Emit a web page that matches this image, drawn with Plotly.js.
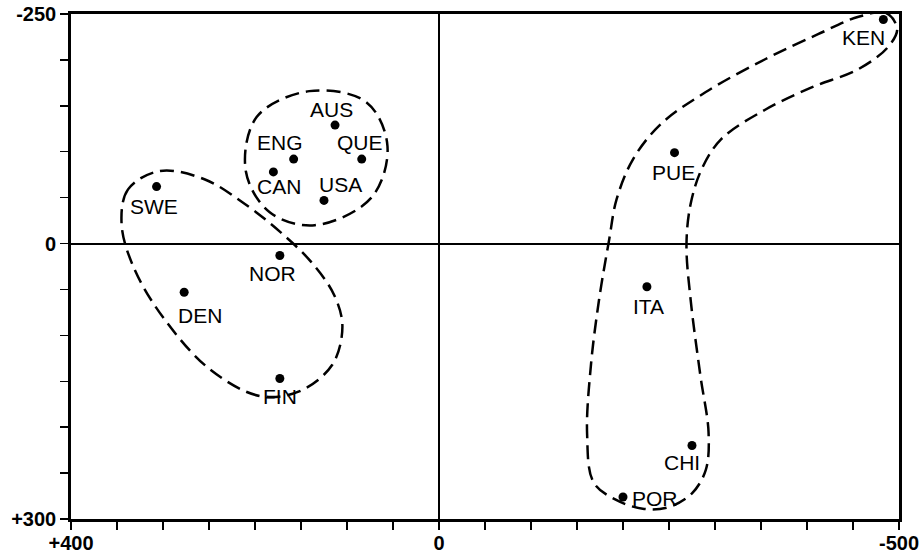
<!DOCTYPE html>
<html>
<head>
<meta charset="utf-8">
<script src="https://cdn.plot.ly/plotly-3.0.1.min.js"></script>
<style>
html,body{margin:0;padding:0;background:#fff}
#chart{width:921px;height:554px}
</style>
</head>
<body>
<div id="chart"></div>
<script>

/* POINTS */

const countries = ["SWE","DEN","NOR","FIN","CAN","ENG","AUS","QUE","USA","KEN","PUE","ITA","CHI","POR"]
const dimX = [307,277,173,173,180,158,113,84,125,-483,-256,-226,-275,-200]
const dimY = [-62,53,13,147,-78,-92,-129,-92,-47,-244,-99,47,220,276]

/* label offsets from the dot, in px */
const labelDX = [-3,16,-7,0,6,-14,-4,-2,16,-20,-1,2,-10,32]
const labelDY = [20,23,18,18,15,-17,-16,-17,-16,18,20,20,17,2]

/* GROUP OUTLINES */

const groupAX = [141,79,56,73.5,135,184,210,198]
const groupAY = [-166,-154,-106,-50,-20,-34,-79,-138]

const groupBX = [303.5,338,345,331,298,249,195,152,116,105,114,139,173,211,255]
const groupBY = [-79,-59,-21,28,83,137,166,161,132,90.5,56,20,-13,-43,-70]

const groupCX = [-456,-486,-498,-488,-456,-405,-355,-307,-285.5,-273.5,-269,-273.5,-284,-293,-290,-275,-250,-223,-192,-168,-161,-165,-174,-185,-193,-211,-241,-290,-355,-412]
const groupCY = [-247,-251,-234,-214,-190,-170,-146,-114,-81,-43,1,61,143,206,246.5,272,287,289,279,260,208,134,61,-4.5,-48,-92,-130,-165,-201,-228]

/* TICKS */

const xTickVals = [400,350,300,250,200,150,100,50,0,-50,-100,-150,-200,-250,-300,-350,-400,-450,-500]
const xTickText = ["+400","","","","","","","","0","","","","","","","","","","-500"]
const yTickVals = [-250,-200,-150,-100,-50,0,50,100,150,200,250,300]
const yTickText = ["-250","","","","","0","","","","","","+300"]

const FONT = "Liberation Sans, Arial, Helvetica, sans-serif"

function closed(arr){
return arr.concat([arr[0]])
}

function outline(xs,ys){
return {
x:closed(xs),
y:closed(ys),
mode:"lines",
line:{color:"#000",width:2.5,dash:"14px,7px",shape:"spline",smoothing:1},
hoverinfo:"skip"
}
}

const traces = [
outline(groupAX,groupAY),
outline(groupBX,groupBY),
outline(groupCX,groupCY),
{
x:dimX,
y:dimY,
mode:"markers",
marker:{size:9,color:"#000"}
}
]

/* country labels */

const labels = countries.map((c,i)=>({
x:dimX[i],
y:dimY[i],
text:c,
showarrow:false,
xanchor:"center",
yanchor:"middle",
xshift:labelDX[i],
yshift:-labelDY[i],
font:{family:FONT,size:21,color:"#000"}
}))

const axisBase = {
showgrid:false,
zeroline:true,
zerolinecolor:"#000",
zerolinewidth:2,
showline:true,
linecolor:"#000",
linewidth:2.8,
mirror:true,
ticks:"outside",
ticklen:8,
tickwidth:1.5,
tickcolor:"#000",
tickmode:"array",
tickfont:{family:FONT,size:20,weight:"bold",color:"#000"}
}

const layout = {
width:921,
height:554,
showlegend:false,
paper_bgcolor:"#fff",
plot_bgcolor:"#fff",
margin:{l:71,r:22,t:14,b:35},
xaxis:Object.assign({},axisBase,{range:[400,-500],tickvals:xTickVals,ticktext:xTickText,ticklabelstandoff:-4}),
yaxis:Object.assign({},axisBase,{range:[300,-250],tickvals:yTickVals,ticktext:yTickText}),
annotations:labels
}

Plotly.newPlot("chart",traces,layout,{displayModeBar:false,staticPlot:true})

</script>
</body>
</html>
